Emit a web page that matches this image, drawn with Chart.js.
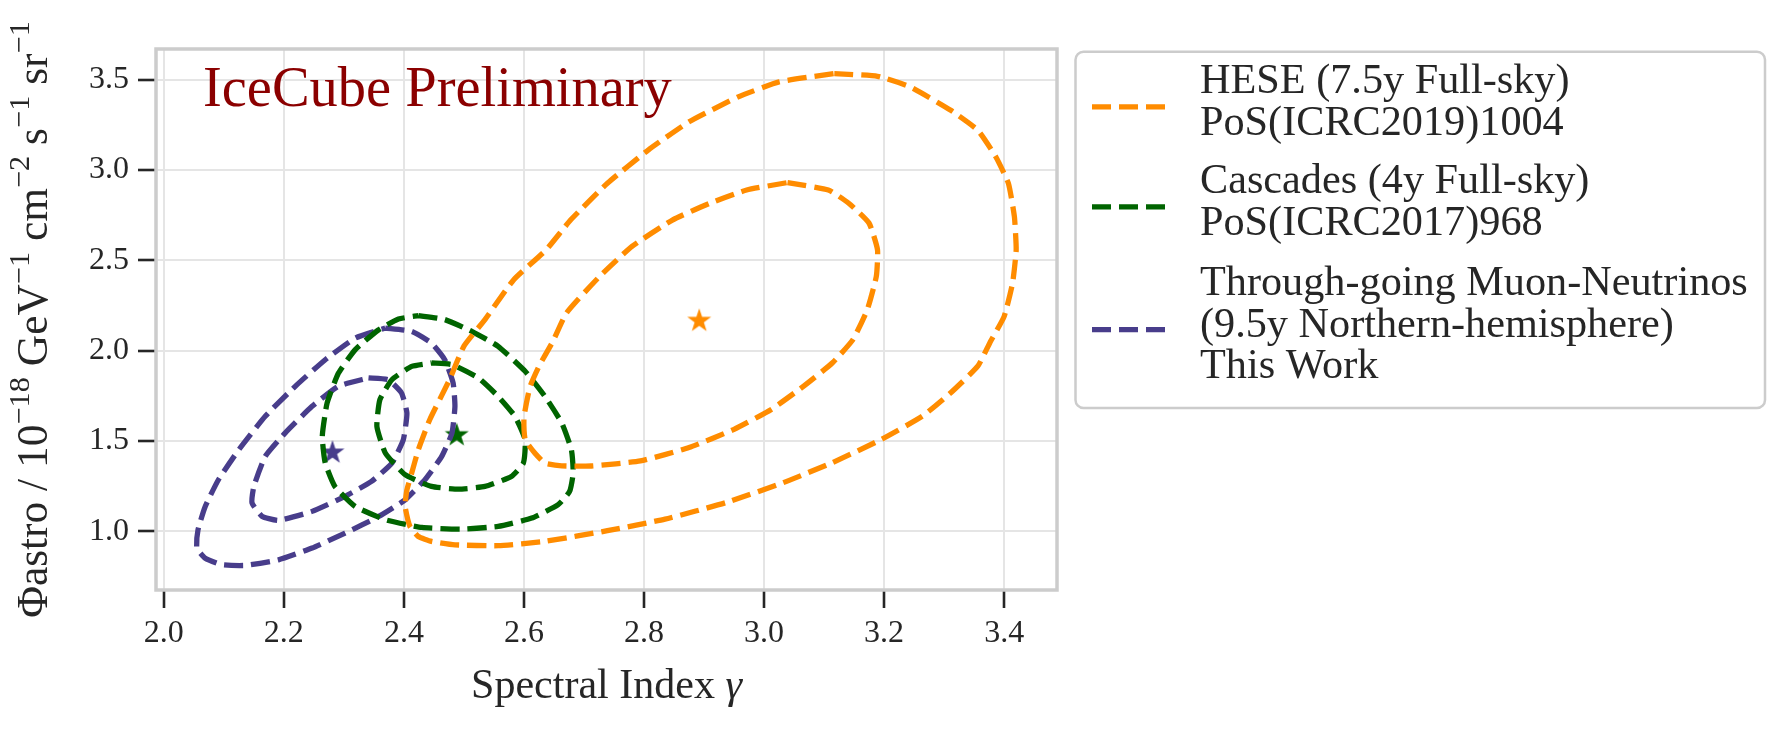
<!DOCTYPE html>
<html lang="en">
<head>
<meta charset="UTF-8" />
<title>Astrophysical flux contours</title>
<script src="https://cdn.jsdelivr.net/npm/chart.js"></script>
<style>
  html, body { margin: 0; padding: 0; background: #fff; }
  #wrap { width: 1789px; height: 732px; }
</style>
</head>
<body>
<div id="wrap"><canvas id="contourChart" width="1789" height="732"></canvas></div>
<script>
// contour outlines: spectral index (x) vs flux normalisation (y)
const heseOuterX = [3.117, 3.189, 3.243, 3.311, 3.356, 3.386, 3.407, 3.417, 3.420, 3.414, 3.400, 3.376, 3.356, 3.311,
  3.264, 3.196, 3.114, 3.032, 2.937, 2.835, 2.739, 2.635, 2.557, 2.485, 2.446, 2.424, 2.410, 2.402, 2.405, 2.413,
  2.424, 2.443, 2.476, 2.500, 2.535, 2.583, 2.637, 2.678, 2.739, 2.807, 2.875, 2.957, 3.025];
const heseOuterY = [3.533, 3.518, 3.460, 3.330, 3.220, 3.073, 2.926, 2.742, 2.558, 2.374, 2.190, 2.043, 1.914, 1.767,
  1.638, 1.510, 1.381, 1.270, 1.160, 1.068, 1.004, 0.945, 0.921, 0.926, 0.945, 0.972, 1.028, 1.138, 1.230, 1.323,
  1.452, 1.618, 1.840, 2.025, 2.172, 2.393, 2.558, 2.724, 2.926, 3.110, 3.266, 3.404, 3.487];

const heseInnerX = [3.039, 3.107, 3.141, 3.175, 3.189, 3.187, 3.172, 3.148, 3.114, 3.066, 3.012, 2.950, 2.875, 2.794,
  2.712, 2.663, 2.635, 2.618, 2.602, 2.600, 2.610, 2.625, 2.648, 2.671, 2.726, 2.780, 2.848, 2.910, 2.971];
const heseInnerY = [2.930, 2.889, 2.816, 2.705, 2.558, 2.411, 2.227, 2.061, 1.933, 1.804, 1.675, 1.565, 1.464, 1.390,
  1.362, 1.363, 1.378, 1.434, 1.507, 1.630, 1.800, 1.914, 2.050, 2.209, 2.411, 2.577, 2.724, 2.816, 2.889];

const cascOuterX = [2.424, 2.468, 2.513, 2.557, 2.602, 2.635, 2.663, 2.679, 2.682, 2.676, 2.657, 2.613, 2.557, 2.496,
  2.430, 2.369, 2.319, 2.285, 2.269, 2.264, 2.272, 2.291, 2.319, 2.358, 2.391];
const cascOuterY = [2.194, 2.172, 2.107, 2.024, 1.886, 1.747, 1.600, 1.452, 1.323, 1.221, 1.148, 1.074, 1.028, 1.013,
  1.022, 1.065, 1.138, 1.249, 1.378, 1.526, 1.710, 1.876, 2.006, 2.116, 2.175];

const cascInnerX = [2.446, 2.480, 2.524, 2.557, 2.585, 2.602, 2.599, 2.579, 2.535, 2.491, 2.446, 2.402, 2.369, 2.355,
  2.360, 2.380, 2.413];
const cascInnerY = [1.932, 1.923, 1.849, 1.747, 1.637, 1.507, 1.378, 1.304, 1.249, 1.234, 1.249, 1.314, 1.434, 1.581,
  1.729, 1.839, 1.913];

const numuOuterX = [2.369, 2.413, 2.446, 2.468, 2.482, 2.485, 2.480, 2.463, 2.435, 2.402, 2.358, 2.302, 2.247, 2.191,
  2.136, 2.097, 2.069, 2.055, 2.057, 2.069, 2.091, 2.125, 2.169, 2.219, 2.269, 2.319];
const numuOuterY = [2.125, 2.107, 2.042, 1.950, 1.821, 1.692, 1.544, 1.415, 1.286, 1.175, 1.083, 0.991, 0.908, 0.843,
  0.812, 0.816, 0.852, 0.908, 1.009, 1.138, 1.286, 1.452, 1.637, 1.803, 1.950, 2.070];

const numuInnerX = [2.341, 2.374, 2.396, 2.405, 2.399, 2.380, 2.346, 2.302, 2.247, 2.191, 2.164, 2.147, 2.150, 2.169,
  2.202, 2.247, 2.291];
const numuInnerY = [1.849, 1.839, 1.766, 1.655, 1.507, 1.378, 1.277, 1.194, 1.111, 1.061, 1.083, 1.157, 1.249, 1.415,
  1.544, 1.692, 1.803];

// best fit points
const bestFitX = [2.892, 2.488, 2.281];
const bestFitY = [2.168, 1.535, 1.439];

const seriesColors = ['#ff8c00', '#006400', '#483d8b'];
const legendLabels = [
  ['HESE (7.5y Full-sky)', 'PoS(ICRC2019)1004'],
  ['Cascades (4y Full-sky)', 'PoS(ICRC2017)968'],
  ['Through-going Muon-Neutrinos', '(9.5y Northern-hemisphere)', 'This Work']
];

const xTicks = [2.0, 2.2, 2.4, 2.6, 2.8, 3.0, 3.2, 3.4];
const yTicks = [1.0, 1.5, 2.0, 2.5, 3.0, 3.5];

const FONT = "'Liberation Serif', 'DejaVu Serif', serif";
const INK = '#262626';
const DASH = [19, 8];

function closed(xs, ys) {
  const p = xs.map((x, i) => ({ x: x, y: ys[i] }));
  p.push({ x: xs[0], y: ys[0] });
  return p;
}

function contour(xs, ys, color) {
  return {
    data: closed(xs, ys),
    showLine: true,
    borderColor: color,
    backgroundColor: color,
    borderWidth: 5.3,
    borderDash: DASH,
    borderJoinStyle: 'round',
    pointRadius: 0,
    tension: 0.15,
    fill: false
  };
}

function starImage(color) {
  const c = document.createElement('canvas');
  c.width = 28; c.height = 28;
  const g = c.getContext('2d');
  g.fillStyle = color;
  g.beginPath();
  for (let i = 0; i < 10; i++) {
    const r = i % 2 ? 4.9 : 12.6;
    const a = -Math.PI / 2 + i * Math.PI / 5;
    g.lineTo(14 + r * Math.cos(a), 14.5 + r * Math.sin(a));
  }
  g.closePath();
  g.fill();
  return c;
}

const datasets = [
  contour(heseOuterX, heseOuterY, seriesColors[0]),
  contour(heseInnerX, heseInnerY, seriesColors[0]),
  contour(cascOuterX, cascOuterY, seriesColors[1]),
  contour(cascInnerX, cascInnerY, seriesColors[1]),
  contour(numuOuterX, numuOuterY, seriesColors[2]),
  contour(numuInnerX, numuInnerY, seriesColors[2])
];
bestFitX.forEach((x, i) => {
  datasets.push({
    data: [{ x: x, y: bestFitY[i] }],
    showLine: false,
    pointStyle: starImage(seriesColors[i]),
    pointRadius: 12
  });
});

// text made of pieces: [text, relative size, baseline shift in em, italic]
function richWidth(ctx, parts, size) {
  let w = 0;
  parts.forEach(p => {
    ctx.font = (p[3] ? 'italic ' : '') + (size * p[1]) + 'px ' + FONT;
    w += ctx.measureText(p[0]).width;
  });
  return w;
}
function richDraw(ctx, parts, x, y, size) {
  parts.forEach(p => {
    ctx.font = (p[3] ? 'italic ' : '') + (size * p[1]) + 'px ' + FONT;
    ctx.fillText(p[0], x, y + p[2] * size);
    x += ctx.measureText(p[0]).width;
  });
}
function fitSize(ctx, parts, width) {
  return 40 * width / richWidth(ctx, parts, 40);
}

const sup = t => [t, 0.7, -0.42, false];
const yTitle = [['Φastro / 10', 1, 0], sup('−18'), [' GeV', 1, 0], sup('−1'), [' cm', 1, 0], sup('−2'),
  [' s', 1, 0], sup('−1'), [' sr', 1, 0], sup('−1')];
const xTitle = [['Spectral Index ', 1, 0], ['γ', 1, 0, true]];
const badge = [['IceCube Preliminary', 1, 0]];

const decor = {
  id: 'decor',
  beforeDatasetsDraw(chart) {
    const { ctx, chartArea: a } = chart;
    ctx.save();
    ctx.strokeStyle = '#cccccc';
    ctx.lineWidth = 3.5;
    ctx.strokeRect(a.left, a.top, a.right - a.left, a.bottom - a.top);
    ctx.restore();
  },
  afterDraw(chart) {
    const { ctx, chartArea: a } = chart;
    ctx.save();
    ctx.textBaseline = 'alphabetic';
    ctx.textAlign = 'left';

    // IceCube label
    ctx.fillStyle = '#8b0000';
    richDraw(ctx, badge, 203, 106, fitSize(ctx, badge, 469));

    // x title
    ctx.fillStyle = INK;
    const xs = fitSize(ctx, xTitle, 271);
    const xw = richWidth(ctx, xTitle, xs);
    richDraw(ctx, xTitle, (a.left + a.right) / 2 - xw / 2, 698, xs);

    // y title, rotated
    const ys = fitSize(ctx, yTitle, 597);
    const yw = richWidth(ctx, yTitle, ys);
    ctx.save();
    ctx.translate(47, (a.top + a.bottom) / 2);
    ctx.rotate(-Math.PI / 2);
    richDraw(ctx, yTitle, -yw / 2, 0, ys);
    ctx.restore();

    // legend box
    const bx = 1075.5, by = 51.7, bw = 689.5, bh = 356.3;
    ctx.beginPath();
    ctx.roundRect(bx, by, bw, bh, 8);
    ctx.fillStyle = '#ffffff';
    ctx.fill();
    ctx.strokeStyle = '#cccccc';
    ctx.lineWidth = 2.5;
    ctx.stroke();

    const ls = fitSize(ctx, [[legendLabels[2][0], 1, 0]], 548);
    const step = 41.7;
    const starts = [93, 193, 295];
    legendLabels.forEach((lines, i) => {
      const hy = starts[i] + (lines.length - 1) * step / 2 - 7;
      ctx.strokeStyle = seriesColors[i];
      ctx.lineWidth = 5.3;
      ctx.setLineDash([19, 8]);
      ctx.beginPath();
      ctx.moveTo(1092, hy);
      ctx.lineTo(1167, hy);
      ctx.stroke();
      ctx.setLineDash([]);
      ctx.fillStyle = INK;
      ctx.font = ls + 'px ' + FONT;
      lines.forEach((t, j) => ctx.fillText(t, 1200, starts[i] + j * step));
    });
    ctx.restore();
  }
};

const tickFont = { family: FONT, size: 32 };

new Chart(document.getElementById('contourChart'), {
  type: 'scatter',
  data: { datasets: datasets },
  options: {
    responsive: false,
    devicePixelRatio: 1,
    animation: false,
    events: [],
    layout: { padding: { left: 0, top: 49, right: 732, bottom: 0 } },
    plugins: { legend: { display: false }, tooltip: { enabled: false } },
    scales: {
      x: {
        type: 'linear',
        min: 1.987,
        max: 3.488,
        afterBuildTicks: s => { s.ticks = xTicks.map(v => ({ value: v })); },
        afterFit: s => { s.height = 142; },
        ticks: { font: tickFont, color: INK, padding: 6, maxRotation: 0, callback: v => v.toFixed(1) },
        grid: { color: '#e5e5e5', lineWidth: 2, tickColor: INK, tickWidth: 2.6, tickLength: 18 },
        border: { display: false }
      },
      y: {
        type: 'linear',
        min: 0.676,
        max: 3.669,
        afterBuildTicks: s => { s.ticks = yTicks.map(v => ({ value: v })); },
        afterFit: s => { s.width = 156; },
        ticks: { font: tickFont, color: INK, padding: 9, callback: v => v.toFixed(1) },
        grid: { color: '#e5e5e5', lineWidth: 2, tickColor: INK, tickWidth: 2.6, tickLength: 18 },
        border: { display: false }
      }
    }
  },
  plugins: [decor]
});
</script>
</body>
</html>
